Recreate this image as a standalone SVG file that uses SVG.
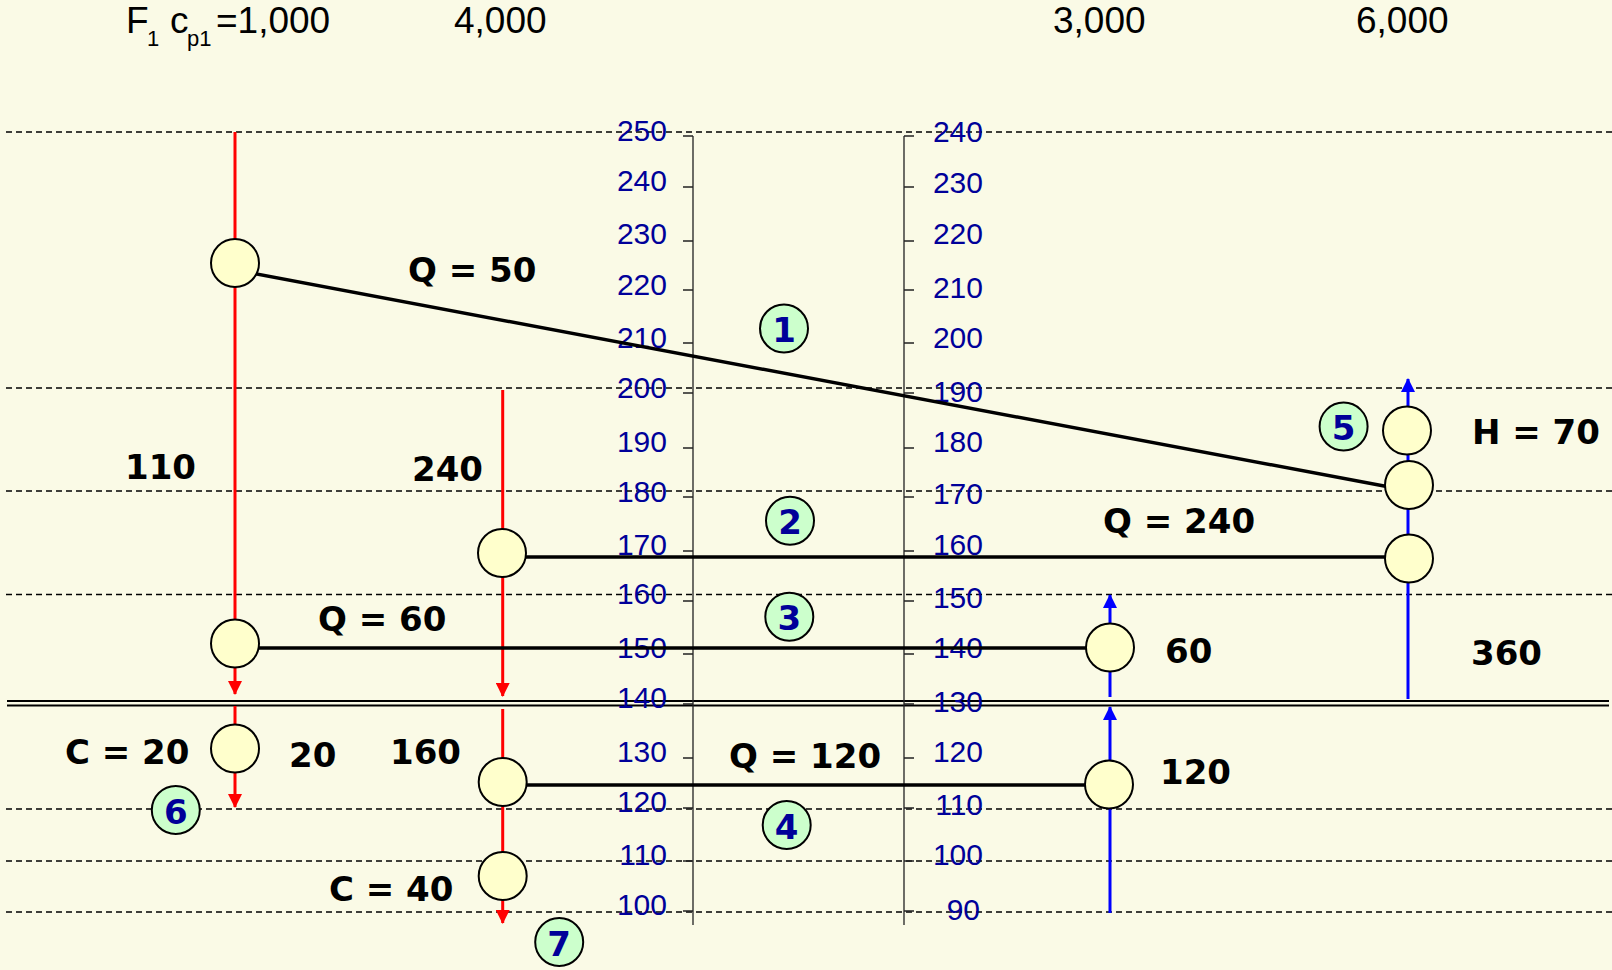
<svg xmlns="http://www.w3.org/2000/svg" width="1612" height="970" viewBox="0 0 1612 970">
<defs>
<style>
.dash{stroke:#000;stroke-width:1.5;stroke-dasharray:6 4;fill:none}
.ax{stroke:#222;stroke-width:1.3;fill:none}
.dbl{stroke:#000;stroke-width:2;fill:none}
.axl{font-family:"Liberation Sans",Arial,sans-serif;font-size:30px;fill:#000099;text-anchor:end}
.top{font-family:"Liberation Sans",Arial,sans-serif;font-size:37px;fill:#000}
.sub{font-size:22px}
.lbl{font-family:"DejaVu Sans",Verdana,sans-serif;font-weight:bold;font-size:34px;fill:#000}
.hot{stroke:#ff0000;stroke-width:3;fill:none;marker-end:url(#ah)}
.cold{stroke:#0000ff;stroke-width:3;fill:none;marker-end:url(#ac)}
.q{stroke:#000;stroke-width:3.5;fill:none}
.node{fill:#ffffcc;stroke:#000;stroke-width:2}
.num circle{fill:#ccffcc;stroke:#000;stroke-width:2}
.num text{font-family:"DejaVu Sans",Verdana,sans-serif;font-weight:bold;font-size:34px;fill:#000099;text-anchor:middle}
</style>
<marker id="ah" markerUnits="userSpaceOnUse" markerWidth="14" markerHeight="14" viewBox="0 0 14 14" refX="13" refY="7" orient="auto"><path d="M0,0 L14,7 L0,14 z" fill="#ff0000"/></marker>
<marker id="ac" markerUnits="userSpaceOnUse" markerWidth="14" markerHeight="14" viewBox="0 0 14 14" refX="13" refY="7" orient="auto"><path d="M0,0 L14,7 L0,14 z" fill="#0000ff"/></marker>
</defs>
<rect x="0" y="0" width="1612" height="970" fill="#fafae6"/>

<g id="grid">
<path class="dash" d="M6,132H1612M6,388H1612M6,491H1612M6,594.5H1612M6,809H1612M6,861H1612M6,912H1612"/>
<path class="dbl" d="M7,701H1609M7,705.5H1609"/>
</g>

<g id="axis-left">
<path class="ax" d="M693,136V925M683,136h10M683,187h10M683,241h10M683,290h10M683,343h10M683,393h10M683,448h10M683,497h10M683,551h10M683,601h10M683,654h10M683,704h10M683,758h10M683,808h10M683,861h10M683,911h10"/>
<text class="axl" x="667" y="141">250</text>
<text class="axl" x="667" y="191">240</text>
<text class="axl" x="667" y="244">230</text>
<text class="axl" x="667" y="295">220</text>
<text class="axl" x="667" y="348">210</text>
<text class="axl" x="667" y="398">200</text>
<text class="axl" x="667" y="452">190</text>
<text class="axl" x="667" y="502">180</text>
<text class="axl" x="667" y="555">170</text>
<text class="axl" x="667" y="604">160</text>
<text class="axl" x="667" y="658">150</text>
<text class="axl" x="667" y="708">140</text>
<text class="axl" x="667" y="762">130</text>
<text class="axl" x="667" y="812">120</text>
<text class="axl" x="667" y="865">110</text>
<text class="axl" x="667" y="915">100</text>
</g>

<g id="axis-right">
<path class="ax" d="M904,136V925M904,136h10M904,187h10M904,241h10M904,290h10M904,343h10M904,393h10M904,448h10M904,497h10M904,551h10M904,601h10M904,654h10M904,704h10M904,758h10M904,808h10M904,861h10M904,911h10"/>
<text class="axl" x="983" y="142">240</text>
<text class="axl" x="983" y="193">230</text>
<text class="axl" x="983" y="244">220</text>
<text class="axl" x="983" y="298">210</text>
<text class="axl" x="983" y="348">200</text>
<text class="axl" x="983" y="402">190</text>
<text class="axl" x="983" y="452">180</text>
<text class="axl" x="983" y="504">170</text>
<text class="axl" x="983" y="555">160</text>
<text class="axl" x="983" y="608">150</text>
<text class="axl" x="983" y="658">140</text>
<text class="axl" x="983" y="712">130</text>
<text class="axl" x="983" y="762">120</text>
<text class="axl" x="983" y="815">110</text>
<text class="axl" x="983" y="865">100</text>
<text class="axl" x="980" y="920">90</text>
</g>

<g id="headers">
<text class="top"><tspan x="126" y="33">F</tspan><tspan class="sub" x="147" y="46">1</tspan><tspan x="170" y="33">c</tspan><tspan class="sub" x="187" y="46">p1</tspan><tspan x="216" y="33">=1,000</tspan></text>
<text class="top" x="454" y="33">4,000</text>
<text class="top" x="1053" y="33">3,000</text>
<text class="top" x="1356" y="33">6,000</text>
</g>

<g id="connectors">
<path class="hot" d="M235,132V694"/>
<path class="hot" d="M235,706V807"/>
<path class="hot" d="M502.7,390V696"/>
<path class="hot" d="M502.7,709V923"/>
<path class="cold" d="M1110,913V707"/>
<path class="cold" d="M1110,697V595"/>
<path class="cold" d="M1408,699V379"/>
<path class="q" d="M235,270L1400,489"/>
<path class="q" d="M502.7,557H1410"/>
<path class="q" d="M235,648H1110"/>
<path class="q" d="M502.7,785H1109"/>
</g>

<g id="n1"><circle class="node" cx="235" cy="263" r="24"/></g>
<g id="n2"><circle class="node" cx="502" cy="553" r="24"/></g>
<g id="n3"><circle class="node" cx="235" cy="643.5" r="24"/></g>
<g id="n4"><circle class="node" cx="235" cy="748.5" r="24"/></g>
<g id="n5"><circle class="node" cx="502.7" cy="782" r="24"/></g>
<g id="n6"><circle class="node" cx="502.7" cy="876" r="24"/></g>
<g id="n7"><circle class="node" cx="1110" cy="647.5" r="24"/></g>
<g id="n8"><circle class="node" cx="1109" cy="784.5" r="24"/></g>
<g id="n9"><circle class="node" cx="1407" cy="430.5" r="24"/></g>
<g id="n10"><circle class="node" cx="1409" cy="485" r="24"/></g>
<g id="n11"><circle class="node" cx="1409" cy="558.5" r="24"/></g>

<g id="s1" class="num"><circle cx="784" cy="328.5" r="24"/><text x="784" y="342">1</text></g>
<g id="s2" class="num"><circle cx="790" cy="520.7" r="24"/><text x="790" y="534">2</text></g>
<g id="s3" class="num"><circle cx="789.3" cy="616.7" r="24"/><text x="789.3" y="630">3</text></g>
<g id="s4" class="num"><circle cx="786.7" cy="825" r="24"/><text x="786.7" y="838.5">4</text></g>
<g id="s5" class="num"><circle cx="1343.6" cy="426.6" r="24"/><text x="1343.6" y="440">5</text></g>
<g id="s6" class="num"><circle cx="175.8" cy="810" r="24"/><text x="175.8" y="823.5">6</text></g>
<g id="s7" class="num"><circle cx="559.2" cy="942" r="24"/><text x="559.2" y="955.5">7</text></g>

<g id="labels">
<text class="lbl" x="408" y="282">Q = 50</text>
<text class="lbl" x="125" y="479">110</text>
<text class="lbl" x="412" y="481">240</text>
<text class="lbl" x="1103" y="533">Q = 240</text>
<text class="lbl" x="318" y="631">Q = 60</text>
<text class="lbl" x="1165" y="663">60</text>
<text class="lbl" x="1471" y="665">360</text>
<text class="lbl" x="1472" y="444">H = 70</text>
<text class="lbl" x="65" y="764">C = 20</text>
<text class="lbl" x="289" y="767">20</text>
<text class="lbl" x="390" y="764">160</text>
<text class="lbl" x="329" y="901">C = 40</text>
<text class="lbl" x="729" y="768">Q = 120</text>
<text class="lbl" x="1160" y="784">120</text>
</g>
</svg>
